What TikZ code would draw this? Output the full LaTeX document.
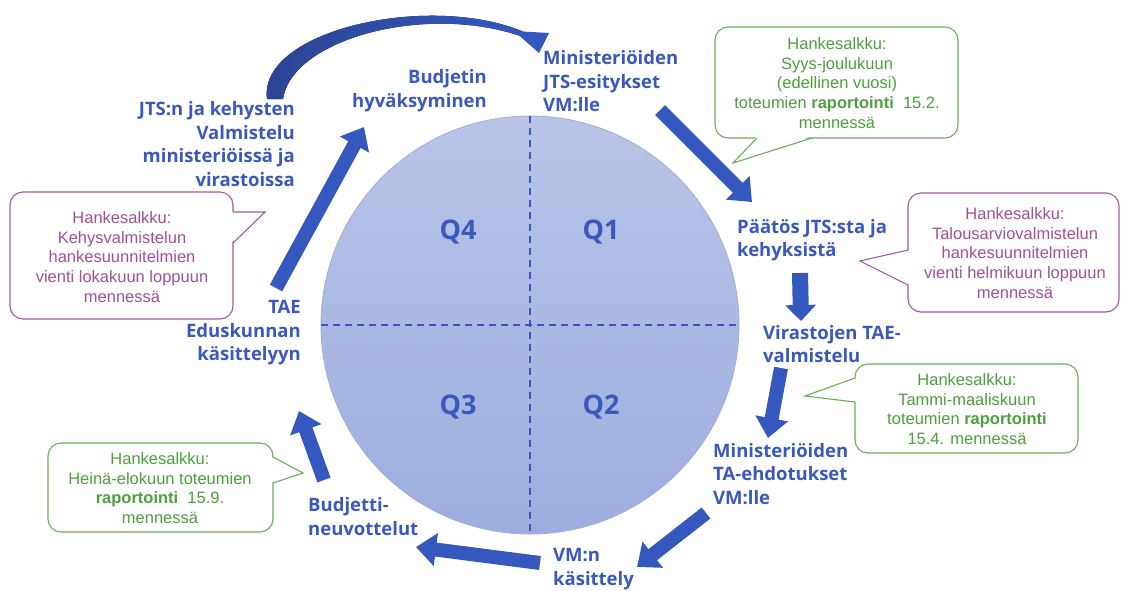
\documentclass[tikz,border=0pt]{standalone}
\usepackage{fontspec}
\setmainfont{Liberation Sans}
\newfontfamily\lblfont{Open Sans}
\usetikzlibrary{arrows.meta}
\definecolor{lblblue}{HTML}{3A58BE}
\definecolor{arrowblue}{HTML}{3558BF}
\definecolor{arrowdark}{HTML}{2A4492}
\definecolor{circtop}{HTML}{B9C4E7}
\definecolor{circbot}{HTML}{9DADDF}
\definecolor{circborder}{HTML}{A0ADD8}
\definecolor{gtext}{HTML}{4E9F3D}
\definecolor{gstroke}{HTML}{6AAE55}
\definecolor{ptext}{HTML}{A1509B}
\definecolor{pstroke}{HTML}{A5589F}
\begin{document}
\begin{tikzpicture}[x=1pt,y=-1pt,
  lbl/.style={font=\lblfont\bfseries\fontsize{18.5}{23.5}\selectfont, text=lblblue, inner sep=0},
  qlbl/.style={font=\lblfont\bfseries\fontsize{27}{30}\selectfont, text=lblblue, inner sep=0},
  flow/.style={draw=arrowblue, line width=14pt, -{Triangle[width=32pt,length=20pt]}},
  gbox/.style={draw=gstroke, fill=white, line width=1.1pt, rounded corners=13pt},
  pbox/.style={draw=pstroke, fill=white, line width=1.1pt, rounded corners=13pt},
  gline/.style={draw=gstroke, line width=1.1pt, line join=miter},
  pline/.style={draw=pstroke, line width=1.1pt, line join=miter},
  gtxt/.style={font=\fontsize{16.5}{19.6}\selectfont, text=gtext, align=center, inner sep=0},
  ptxt/.style={font=\fontsize{16.5}{19.6}\selectfont, text=ptext, align=center, inner sep=0},
  qline/.style={draw=lblblue, line width=1.8pt, dash pattern=on 7pt off 5pt}
]
\useasboundingbox (0,0) rectangle (1122,590);
\fill[white] (0,0) rectangle (1122,590);

% circle
\node[circle, minimum size=418pt, inner sep=0, top color=circtop, bottom color=circbot,
      draw=circborder, line width=0.8pt] (circ) at (530,325) {};
\draw[qline] (circ.north) -- (circ.south);
\draw[qline] (circ.west) -- (circ.east);
\node[qlbl] (q4) at (458,232) {Q4};
\node[qlbl] (q1) at (601,232) {Q1};
\node[qlbl] (q3) at (458,407) {Q3};
\node[qlbl] (q2) at (601,407) {Q2};

% labels
\node[lbl, align=right, anchor=east] (budj) at (487,90.5) {Budjetin\\hyväksyminen};
\node[lbl, align=left, anchor=west] (minjts) at (543,81.5) {Ministeriöiden\\JTS-esitykset\\VM:lle};
\node[lbl, align=right, anchor=east] (jts) at (295,144) {JTS:n ja kehysten\\Valmistelu\\ministeriöissä ja\\virastoissa};
\node[lbl, align=left, anchor=west] (paatos) at (737,240) {Päätös JTS:sta ja\\kehyksistä};
\node[lbl, align=left, anchor=west] (vir) at (763,344) {Virastojen TAE-\\valmistelu};
\node[lbl, align=left, anchor=west] (minta) at (713,474) {Ministeriöiden\\TA-ehdotukset\\VM:lle};
\node[lbl, align=left, anchor=west] (vmn) at (553,569) {VM:n\\käsittely};
\node[lbl, align=left, anchor=west] (budjn) at (308,516.5) {Budjetti-\\neuvottelut};
\node[lbl, align=right, anchor=east] (tae) at (301,333) {TAE\\Eduskunnan\\käsittelyyn};

% straight flow arrows
\coordinate (a2s) at (660,110);  \coordinate (a2e) at (752,202);
\coordinate (a3s) at (800,273);  \coordinate (a3e) at (801,321);
\coordinate (a4s) at (781,368);  \coordinate (a4e) at (768,438);
\coordinate (a5s) at (706,513);  \coordinate (a5e) at (637,567);
\coordinate (a6s) at (540,563);  \coordinate (a6e) at (416,547);
\coordinate (a7s) at (324,480);  \coordinate (a7e) at (299,411);
\coordinate (a8s) at (276,288);  \coordinate (a8e) at (364,127);
\draw[flow] (a2s) -- (a2e);
\draw[flow, line width=16pt, -{Triangle[width=30pt,length=16pt]}] (a3s) -- (a3e);
\draw[flow] (a4s) -- (a4e);
\draw[flow] (a5s) -- (a5e);
\draw[flow] (a6s) -- (a6e);
\draw[flow] (a7s) -- (a7e);
\draw[flow] (a8s) -- (a8e);

% curved arrow
\fill[left color=arrowdark, right color=arrowblue]
  (267,99) .. controls (258,30) and (430,-8) .. (524,32) -- (526,38)
  .. controls (430,2) and (292,38) .. (283,99) -- cycle;
\fill[arrowblue] (514,31) -- (549,33) -- (539,53) -- cycle;

% callout A (green, top right)
\draw[gbox] (715,27) rectangle (958,138);
\fill[white] (757,136) -- (733,163) -- (812,136) -- cycle;
\draw[gline] (757,138) -- (733,163) -- (812,138);
\node[gtxt] (ca) at (837,83) {Hankesalkku:\\Syys-joulukuun\\(edellinen vuosi)\\toteumien \textbf{raportointi}\ \ 15.2.\\mennessä};

% callout B (purple, right)
\draw[pbox] (908,193) rectangle (1119,312);
\fill[white] (910,250) -- (860,261) -- (910,285) -- cycle;
\draw[pline] (908,250) -- (860,261) -- (908,285);
\node[ptxt] (cb) at (1015,253) {Hankesalkku:\\Talousarviovalmistelun\\hankesuunnitelmien\\vienti helmikuun loppuun\\mennessä};

% callout C (purple, left)
\draw[pbox] (10,192) rectangle (233,319);
\fill[white] (231,212) -- (265,212) -- (231,243) -- cycle;
\draw[pline] (233,212) -- (265,212) -- (233,243);
\node[ptxt] (cc) at (122,257) {Hankesalkku:\\Kehysvalmistelun\\hankesuunnitelmien\\vienti lokakuun loppuun\\mennessä};

% callout D (green, right lower)
\draw[gbox] (855,364) rectangle (1078,453);
\fill[white] (857,378) -- (805,396) -- (857,402) -- cycle;
\draw[gline] (855,378) -- (805,396) -- (855,402);
\node[gtxt] (cd) at (967,409) {Hankesalkku:\\Tammi-maaliskuun\\toteumien \textbf{raportointi}\\15.4. mennessä};

% callout E (green, left lower)
\draw[gbox] (48,443) rectangle (273,532);
\fill[white] (271,457) -- (303,473) -- (271,483) -- cycle;
\draw[gline] (273,457) -- (303,473) -- (273,483);
\node[gtxt] (ce) at (160,488) {Hankesalkku:\\Heinä-elokuun toteumien\\\textbf{raportointi}\ \ 15.9.\\mennessä};
\end{tikzpicture}
\end{document}
